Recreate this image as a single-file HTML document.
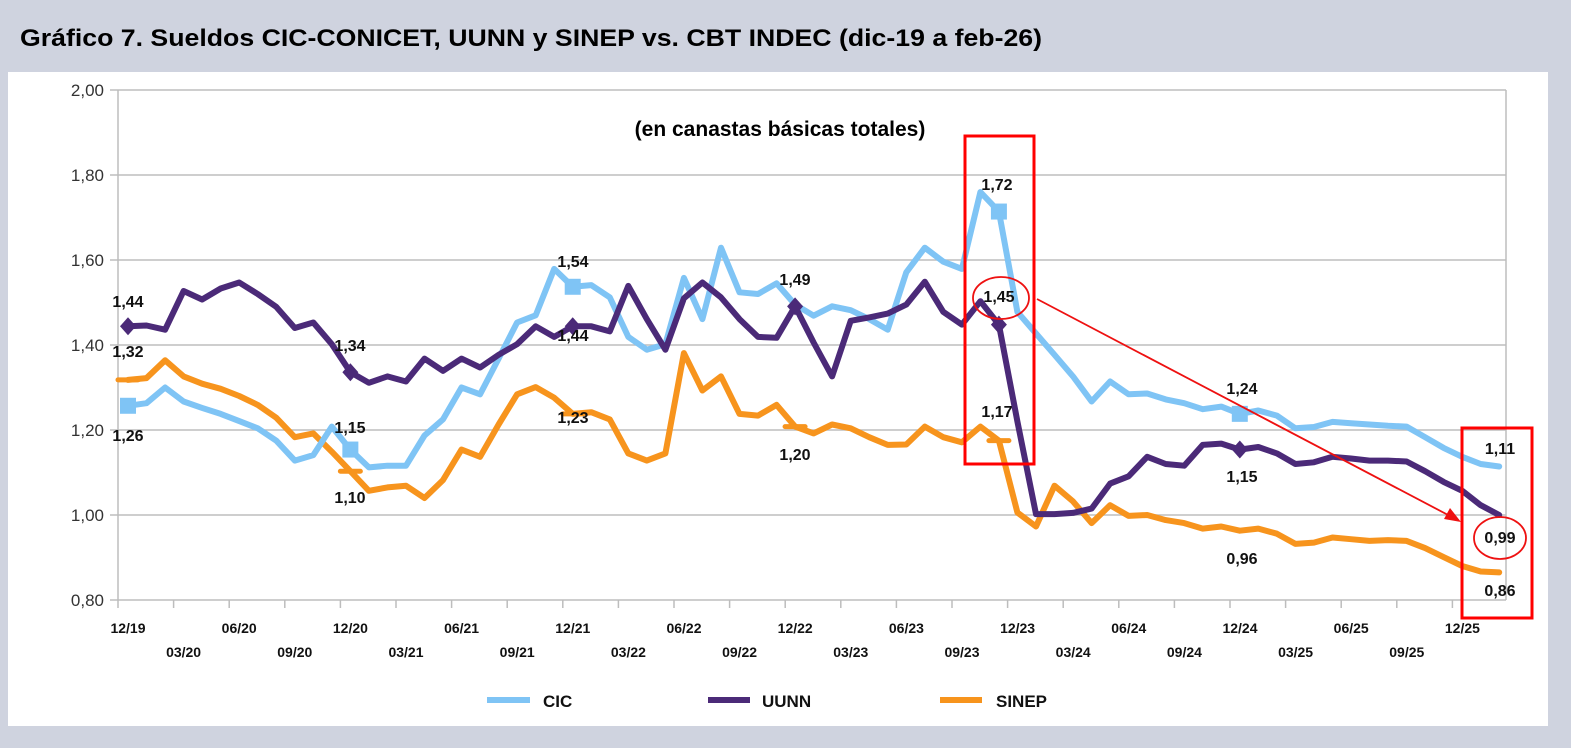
<!DOCTYPE html>
<html><head><meta charset="utf-8"><style>
html,body{margin:0;padding:0;background:#cfd3df;}
svg{display:block;font-family:"Liberation Sans",Arial,sans-serif;}
</style></head><body>
<svg id="s" width="1571" height="748" viewBox="0 0 1571 748" xmlns="http://www.w3.org/2000/svg">
<rect x="0" y="0" width="1571" height="748" fill="#cfd3df"/>
<text x="20" y="46" font-size="24" font-weight="bold" fill="#000" textLength="1022" lengthAdjust="spacingAndGlyphs">Gráfico 7. Sueldos CIC-CONICET, UUNN y SINEP vs. CBT INDEC (dic-19 a feb-26)</text>
<rect x="8" y="72" width="1540" height="654" fill="#fff"/>
<g id="grid" stroke="#bdbdbd" stroke-width="1.5"></g>
<g id="ylab" font-size="17" fill="#333" text-anchor="end"></g>
<g id="xlab" font-size="14" font-weight="bold" fill="#111" text-anchor="middle"></g>
<text x="780" y="136" font-size="21" font-weight="bold" text-anchor="middle" fill="#000">(en canastas básicas totales)</text>
<g id="series" fill="none" stroke-linejoin="round" stroke-linecap="round"></g>
<g id="labels" font-size="16" font-weight="bold" fill="#111" text-anchor="middle">
<text x="128" y="307">1,44</text><text x="128" y="357">1,32</text><text x="128" y="441">1,26</text>
<text x="350" y="351">1,34</text><text x="350" y="433">1,15</text><text x="350" y="503">1,10</text>
<text x="573" y="267">1,54</text><text x="573" y="341">1,44</text><text x="573" y="423">1,23</text>
<text x="795" y="285">1,49</text><text x="795" y="460">1,20</text>
<text x="997" y="190">1,72</text><text x="999" y="302">1,45</text><text x="997" y="417">1,17</text>
<text x="1242" y="394">1,24</text><text x="1242" y="482">1,15</text><text x="1242" y="564">0,96</text>
<text x="1500" y="454">1,11</text><text x="1500" y="543">0,99</text><text x="1500" y="596">0,86</text>
</g>
<g fill="none" stroke="#ff0000" stroke-width="3">
<rect x="965" y="136" width="69" height="328"/>
<rect x="1462" y="428" width="70" height="190"/>
</g>
<g fill="none" stroke="#ee1111" stroke-width="1.8">
<ellipse cx="1001" cy="298" rx="28" ry="21"/>
<ellipse cx="1500" cy="538" rx="26" ry="21"/>
<line x1="1037" y1="299" x2="1450" y2="516"/>
</g>
<polygon points="1461,522 1444,519 1450,508" fill="#ee1111"/>
<g font-size="17" font-weight="bold" fill="#111">
<line x1="487" y1="700" x2="530" y2="700" stroke="#7fc4f5" stroke-width="6"/><text x="543" y="707">CIC</text>
<line x1="708" y1="700" x2="750" y2="700" stroke="#4b2a78" stroke-width="6"/><text x="762" y="707">UUNN</text>
<line x1="940" y1="700" x2="982" y2="700" stroke="#f7941d" stroke-width="6"/><text x="996" y="707">SINEP</text>
</g>
</svg>
<script>
var NS="http://www.w3.org/2000/svg";
function el(p,t,a,txt){var e=document.createElementNS(NS,t);for(var k in a)e.setAttribute(k,a[k]);if(txt)e.textContent=txt;document.getElementById(p).appendChild(e);return e;}
function Y(v){return 600-(v-0.8)*425;}
function X(i){return 128+18.53*i;}
var g=["2,00","1,80","1,60","1,40","1,20","1,00","0,80"];
for(var k=0;k<7;k++){var y=90+85*k;el("grid","line",{x1:110,y1:y,x2:1506,y2:y});el("ylab","text",{x:104,y:y+6},g[k]);}
el("grid","line",{x1:118,y1:90,x2:118,y2:600});
el("grid","line",{x1:1506,y1:90,x2:1506,y2:600});
var mon=["12","03","06","09"];
for(var k=0;k<25;k++){var tx=118+55.6*k;el("grid","line",{x1:tx,y1:600,x2:tx,y2:608});
 var yr=19+Math.floor((k+3)/4);var m=mon[k%4];
 el("xlab","text",{x:128+55.6*k,y:(k%2==0)?633:657},m+"/"+yr);}
var cic=[1.257,1.263,1.30,1.267,1.252,1.238,1.221,1.204,1.175,1.128,1.141,1.208,1.154,1.112,1.116,1.116,1.187,1.225,1.30,1.284,1.368,1.453,1.47,1.579,1.537,1.541,1.512,1.419,1.389,1.402,1.558,1.461,1.629,1.524,1.52,1.545,1.495,1.469,1.491,1.482,1.461,1.436,1.571,1.629,1.596,1.579,1.76,1.714,1.478,1.427,1.377,1.326,1.267,1.314,1.284,1.286,1.272,1.263,1.249,1.255,1.238,1.246,1.234,1.204,1.207,1.219,1.216,1.213,1.21,1.208,1.183,1.158,1.137,1.12,1.114];
var uu=[1.444,1.446,1.436,1.527,1.507,1.533,1.547,1.52,1.49,1.44,1.453,1.402,1.336,1.311,1.326,1.314,1.368,1.339,1.368,1.347,1.377,1.402,1.444,1.419,1.444,1.444,1.432,1.539,1.461,1.389,1.51,1.547,1.512,1.461,1.419,1.417,1.491,1.406,1.326,1.457,1.465,1.474,1.495,1.549,1.478,1.448,1.503,1.448,1.22,1.002,1.002,1.005,1.015,1.074,1.091,1.137,1.12,1.116,1.165,1.168,1.154,1.16,1.145,1.12,1.124,1.137,1.133,1.128,1.128,1.126,1.103,1.078,1.057,1.023,1.0];
var si=[1.318,1.322,1.364,1.326,1.309,1.297,1.28,1.259,1.229,1.183,1.192,1.149,1.103,1.057,1.065,1.069,1.04,1.082,1.154,1.137,1.213,1.284,1.301,1.276,1.238,1.242,1.225,1.145,1.128,1.145,1.381,1.293,1.326,1.238,1.234,1.259,1.208,1.192,1.213,1.204,1.183,1.165,1.166,1.208,1.183,1.171,1.208,1.175,1.006,0.973,1.069,1.032,0.981,1.023,0.998,1.0,0.988,0.981,0.968,0.973,0.963,0.968,0.956,0.932,0.935,0.947,0.943,0.939,0.941,0.939,0.922,0.901,0.88,0.867,0.865];
function pts(a){return a.map(function(v,i){return X(i).toFixed(1)+","+Y(v).toFixed(1);}).join(" ");}
el("series","polyline",{points:pts(si),stroke:"#f7941d","stroke-width":6});
el("series","polyline",{points:pts(cic),stroke:"#7fc4f5","stroke-width":6});
el("series","polyline",{points:pts(uu),stroke:"#4b2a78","stroke-width":6});
[0,12,24,47,60].forEach(function(i){el("series","rect",{x:X(i)-8,y:Y(cic[i])-8,width:16,height:16,fill:"#7fc4f5",stroke:"none"});});
[0,12,24,36,47,60].forEach(function(i){var x=X(i),y=Y(uu[i]);el("series","polygon",{points:(x-8)+","+y+" "+x+","+(y-9)+" "+(x+8)+","+y+" "+x+","+(y+9),fill:"#4b2a78",stroke:"none"});});
[0,12,24,36,47].forEach(function(i){var x=X(i),y=Y(si[i]);el("series","line",{x1:x-10,y1:y,x2:x+10,y2:y,stroke:"#f7941d","stroke-width":5});});
</script>
</body></html>
